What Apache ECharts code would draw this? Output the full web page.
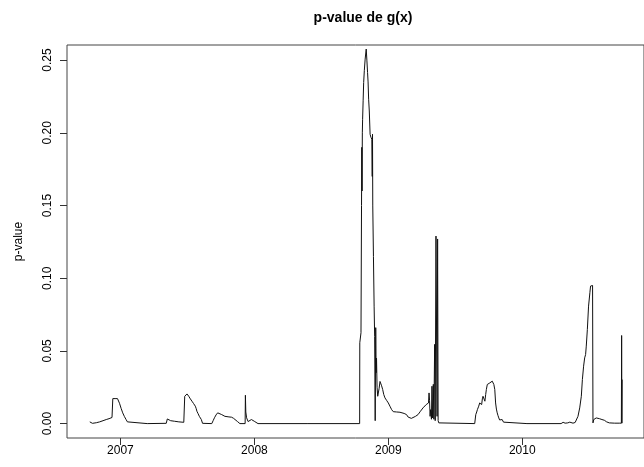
<!DOCTYPE html>
<html>
<head>
<meta charset="utf-8">
<script src="https://cdn.jsdelivr.net/npm/echarts@6/dist/echarts.min.js"></script>
<style>
html,body{margin:0;padding:0;background:#fff;}
#chart{width:644px;height:467px;}
</style>
</head>
<body>
<div id="chart"></div>
<script>
// Decimal-year dates and p-values
const dates = [
2006.771,2006.791,2006.820,2006.845,2006.870,2006.894,2006.915,2006.937,2006.943,2006.960,
2006.978,2006.993,2007.005,2007.017,2007.030,2007.042,2007.052,2007.061,2007.200,2007.342,
2007.350,2007.362,2007.375,2007.405,2007.436,2007.473,2007.480,2007.490,2007.497,2007.504,
2007.510,2007.522,2007.534,2007.546,2007.559,2007.565,2007.571,2007.580,2007.589,2007.597,
2007.604,2007.613,2007.682,2007.692,2007.702,2007.714,2007.726,2007.740,2007.756,2007.770,
2007.780,2007.793,2007.810,2007.830,2007.845,2007.855,2007.874,2007.892,2007.931,2007.933,
2007.936,2007.942,2007.953,2007.965,2007.978,2007.990,2008.003,2008.015,2008.027,2008.400,
2008.786,2008.787,2008.796,2008.800,2008.802,2008.804,2008.806,2008.808,2008.812,2008.816,
2008.821,2008.827,2008.835,2008.840,2008.845,2008.849,2008.853,2008.858,2008.864,2008.870,
2008.877,2008.880,2008.882,2008.884,2008.889,2008.894,2008.898,2008.902,2008.906,2008.909,
2008.912,2008.916,2008.921,2008.926,2008.931,2008.938,2008.943,2008.950,2008.958,2008.966,
2008.975,2008.987,2009.000,2009.012,2009.025,2009.037,2009.049,2009.062,2009.074,2009.087,
2009.099,2009.118,2009.136,2009.148,2009.160,2009.172,2009.185,2009.203,2009.222,2009.240,
2009.259,2009.272,2009.283,2009.292,2009.300,2009.304,2009.308,2009.312,2009.316,2009.322,
2009.326,2009.330,2009.336,2009.340,2009.346,2009.350,2009.356,2009.360,2009.364,2009.368,
2009.372,2009.377,2009.383,2009.645,2009.653,2009.660,2009.665,2009.670,2009.675,2009.682,
2009.690,2009.697,2009.702,2009.707,2009.712,2009.716,2009.721,2009.727,2009.732,2009.739,
2009.751,2009.758,2009.764,2009.770,2009.776,2009.782,2009.788,2009.795,2009.801,2009.807,
2009.813,2009.819,2009.825,2009.831,2009.837,2009.843,2009.850,2009.860,2009.869,2010.035,
2010.041,2010.048,2010.290,2010.305,2010.320,2010.340,2010.355,2010.379,2010.395,2010.404,
2010.416,2010.429,2010.441,2010.449,2010.458,2010.466,2010.473,2010.478,2010.482,2010.486,
2010.495,2010.505,2010.510,2010.515,2010.520,2010.525,2010.528,2010.534,2010.543,2010.552,
2010.565,2010.576,2010.595,2010.613,2010.630,2010.650,2010.690,2010.724,2010.740,2010.742,
2010.744,2010.746
];
const pvalues = [
0.0012,0.0002,0.0006,0.0012,0.0020,0.0028,0.0034,0.0042,0.0172,0.0172,
0.0172,0.0140,0.0105,0.0074,0.0048,0.0028,0.0012,0.0002,0.0000,0.0002,
0.0032,0.0024,0.0020,0.0016,0.0012,0.0009,0.0188,0.0196,0.0204,0.0196,
0.0188,0.0170,0.0154,0.0138,0.0120,0.0105,0.0085,0.0068,0.0050,0.0040,
0.0028,0.0002,0.0000,0.0020,0.0040,0.0060,0.0074,0.0068,0.0062,0.0058,
0.0050,0.0052,0.0046,0.0044,0.0036,0.0028,0.0014,0.0000,0.0000,0.0195,
0.0080,0.0040,0.0014,0.0022,0.0028,0.0016,0.0014,0.0006,0.0000,0.0000,
0.0000,0.0556,0.0625,0.1500,0.1900,0.1600,0.2000,0.2090,0.2220,0.2346,
0.2430,0.2507,0.2576,0.2500,0.2415,0.2350,0.2231,0.2150,0.1990,0.1970,
0.1956,0.1700,0.1990,0.1497,0.1150,0.0808,0.0600,0.0020,0.0660,0.0350,
0.0450,0.0250,0.0188,0.0180,0.0240,0.0290,0.0290,0.0260,0.0234,0.0200,
0.0177,0.0160,0.0142,0.0120,0.0096,0.0082,0.0074,0.0080,0.0085,0.0078,
0.0074,0.0070,0.0062,0.0045,0.0034,0.0036,0.0039,0.0050,0.0062,0.0085,
0.0108,0.0120,0.0131,0.0137,0.0142,0.0211,0.0160,0.0050,0.0096,0.0030,
0.0257,0.0039,0.0270,0.0030,0.0545,0.0020,0.1290,0.1285,0.0050,0.1270,
0.0020,0.0005,0.0000,0.0000,0.0062,0.0080,0.0096,0.0088,0.0120,0.0142,
0.0138,0.0131,0.0170,0.0188,0.0199,0.0175,0.0154,0.0200,0.0234,0.0269,
0.0269,0.0280,0.0285,0.0290,0.0292,0.0282,0.0269,0.0234,0.0142,0.0100,
0.0074,0.0055,0.0039,0.0025,0.0016,0.0022,0.0028,0.0010,0.0000,0.0000,
0.0006,0.0000,0.0000,0.0009,0.0003,0.0005,0.0010,0.0003,0.0008,0.0016,
0.0050,0.0108,0.0188,0.0303,0.0395,0.0452,0.0475,0.0533,0.0520,0.0647,
0.0808,0.0900,0.0946,0.0957,0.0957,0.0950,0.0005,0.0028,0.0035,0.0039,
0.0036,0.0034,0.0028,0.0023,0.0012,0.0005,0.0003,0.0003,0.0003,0.0606,
0.0003,0.0303
];
const xTicks = [2007, 2008, 2009, 2010];
const yTicks = [0, 0.05, 0.10, 0.15, 0.20, 0.25];

const seriesData = dates.map((d, i) => [d, pvalues[i]]);
const FONT = 'Liberation Sans, Arial, sans-serif';

const chart = echarts.init(document.getElementById('chart'), null, {renderer: 'canvas'});
chart.setOption({
  animation: false,
  backgroundColor: '#fff',
  title: {
    text: 'p-value de g(x)',
    left: 358, top: 6, textAlign: 'center',
    textStyle: {fontFamily: FONT, fontSize: 14, fontWeight: 'bold', color: '#000'}
  },
  grid: {
    left: 67, top: 45, right: -6, bottom: 29,
    show: true, borderColor: '#444', borderWidth: 1, backgroundColor: 'transparent'
  },
  xAxis: {
    type: 'value', min: 2006.601, max: 2010.909,
    splitLine: {show: false},
    axisLine: {show: false, onZero: false},
    axisTick: {show: true, customValues: xTicks, length: 7, lineStyle: {color: '#333'}},
    axisLabel: {customValues: xTicks, margin: 7, fontSize: 12, color: '#000', fontFamily: FONT,
      formatter: v => String(Math.round(v))}
  },
  yAxis: {
    type: 'value', min: -0.0099, max: 0.2604,
    splitLine: {show: false},
    axisLine: {show: false, onZero: false},
    axisTick: {show: true, customValues: yTicks, length: 7, lineStyle: {color: '#333'}},
    axisLabel: {customValues: yTicks, rotate: 90, margin: 13, fontSize: 12, color: '#000', fontFamily: FONT,
      formatter: v => v.toFixed(2)},
    name: 'p-value', nameLocation: 'middle', nameGap: 42,
    nameTextStyle: {fontSize: 12, color: '#000', fontFamily: FONT}
  },
  series: [{
    type: 'line',
    data: seriesData,
    showSymbol: false,
    symbol: 'none',
    sampling: null,
    lineStyle: {color: '#111', width: 1},
    emphasis: {disabled: true}
  }]
});
</script>
</body>
</html>
